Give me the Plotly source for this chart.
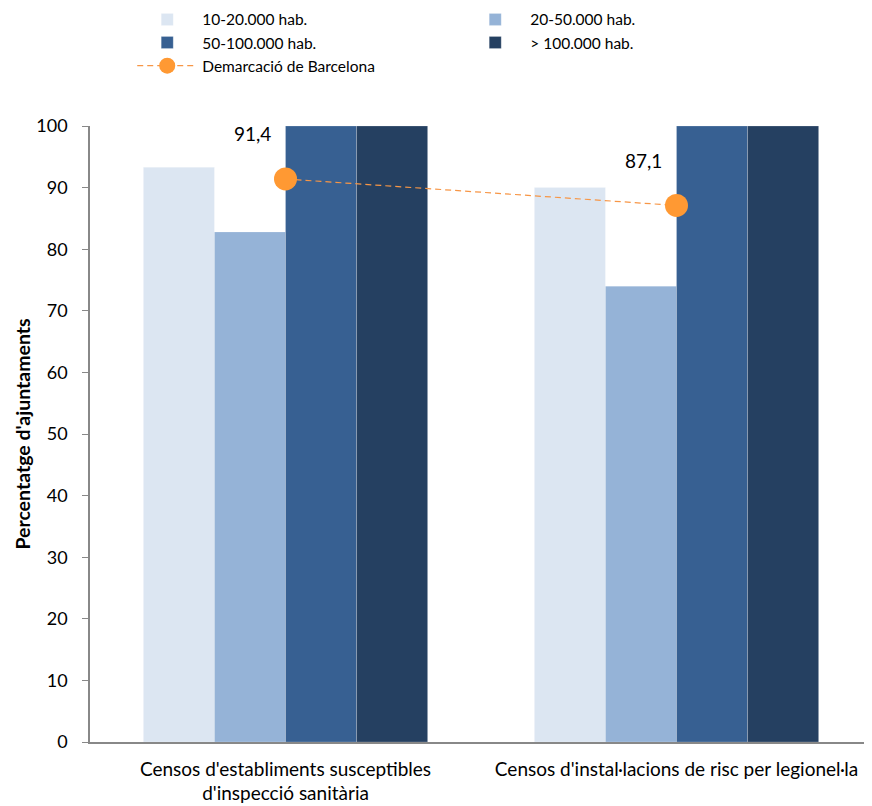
import plotly.graph_objects as go

categories = ["Censos d'establiments susceptibles<br>d'inspecció sanitària",
              "Censos d'instal·lacions de risc per legionel·la"]
series_names = ["10-20.000 hab.", "20-50.000 hab.", "50-100.000 hab.", "> 100.000 hab."]
v_10_20 = [93.3, 90.0]
v_20_50 = [82.8, 74.0]
v_50_100 = [100, 100]
v_100 = [100, 100]
demarcacio = [91.4, 87.1]
demarcacio_labels = ["91,4", "87,1"]
colors = ["#DCE6F2", "#95B3D7", "#376092", "#254061"]

font = "Lato, Open Sans, sans-serif"
fig = go.Figure()
for name, vals, c in zip(series_names, [v_10_20, v_20_50, v_50_100, v_100], colors):
    fig.add_trace(go.Bar(x=categories, y=vals, name=name,
                         marker=dict(color=c, line=dict(width=0.6, color="rgba(255,255,255,0.35)"))))

fig.add_trace(go.Scatter(x=categories, y=demarcacio, name="Demarcació de Barcelona", mode="lines+markers",
                         line=dict(color="#F79646", width=1.2, dash="6px,4px"),
                         marker=dict(color="#FF9933", size=23)))

for cat, v, lab in zip(categories, demarcacio, demarcacio_labels):
    fig.add_annotation(x=cat, y=v, text=lab, showarrow=False, xshift=-33, yshift=45,
                       font=dict(family=font, size=19, color="#000000"))

fig.update_layout(
    width=864, height=798,
    margin=dict(l=82, r=0, t=118, b=64, autoexpand=False),
    paper_bgcolor="white", plot_bgcolor="white",
    barmode="group", bargap=0.273, bargroupgap=0,
    font=dict(family=font, size=19, color="#000000"),
    showlegend=True,
    legend=dict(orientation="h", x=0.054, xanchor="left", y=1.20, yanchor="top",
                entrywidth=253, entrywidthmode="pixels", traceorder="normal",
                font=dict(family=font, size=15.5), itemwidth=60, tracegroupgap=0),
    xaxis=dict(showline=True, linecolor="#888888", linewidth=1.5, ticks="", showgrid=False,
               tickfont=dict(family=font, size=19), ticklabelstandoff=9, automargin=False),
    yaxis=dict(range=[0, 100], dtick=10, showline=True, linecolor="#888888", linewidth=1.5,
               ticks="outside", ticklen=6, tickcolor="#888888", showgrid=False, zeroline=False,
               tickfont=dict(family=font, size=18), ticklabelstandoff=11, automargin=False,
               title=dict(text="<b>Percentatge d'ajuntaments</b>", font=dict(family=font, size=19.5), standoff=0)),
)
fig.write_html("out.html")
